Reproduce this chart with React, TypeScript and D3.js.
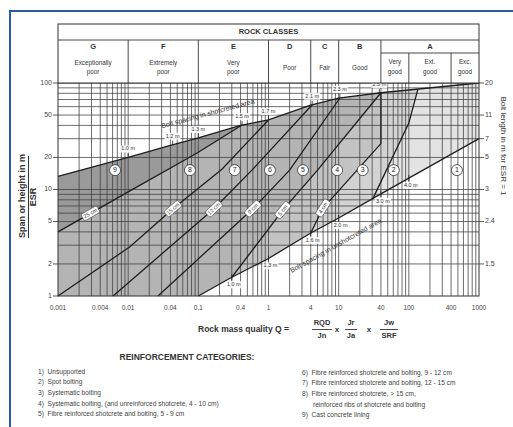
import React from "react";
import * as d3 from "d3";

const W = 513, H = 427;
const FONT = "Liberation Sans, Arial, Helvetica, sans-serif";

// Axes
const qTicks = [0.001, 0.004, 0.01, 0.04, 0.1, 0.4, 1, 4, 10, 40, 100, 400, 1000];
const qTickLabels = ["0.001", "0.004", "0.01", "0.04", "0.1", "0.4", "1", "4", "10", "40", "100", "400", "1000"];
const spanTicks = [1, 2, 5, 10, 20, 50, 100];
const boltSpans = [100, 50, 30, 20, 10, 5, 2];
const boltLabels = ["20", "11", "7", "5", "3", "2.4", "1.5"];

// Rock class header
const classNames = ["G", "F", "E", "D", "C", "B", "A"];
const classEdges = [0.001, 0.01, 0.1, 1, 4, 10, 40, 1000];
const classDesc = [["Exceptionally", "poor"], ["Extremely", "poor"], ["Very", "poor"], ["Poor"], ["Fair"], ["Good"], []];
const aSubEdges = [40, 100, 400, 1000];
const aSubDesc = [["Very", "good"], ["Ext.", "good"], ["Exc.", "good"]];

// Upper boundary: bolt spacing in shotcreted area
const upperQ = [0.001, 0.01, 0.04, 0.1, 0.4, 1, 4, 10, 40, 1000];
const upperS = [13.3, 20, 26, 30.5, 40, 45, 62, 72, 81, 100];
const upperLabelQ = [0.01, 0.043, 0.1, 0.42, 1, 4.2, 10.4, 38];
const upperLabels = ["1.0 m", "1.2 m", "1.3 m", "1.5 m", "1.7 m", "2.1 m", "2.3 m", "2.5 m"];

// Lower boundary: bolt spacing in unshotcreted area
const lowerQ = [0.1, 0.3, 1, 4, 10, 40, 100, 1000];
const lowerS = [1, 1.5, 2.25, 3.9, 5.4, 9.1, 12.8, 30];
const lowerLabelQ = [0.3, 1, 4, 10, 40, 100];
const lowerLabels = ["1.0 m", "1.3 m", "1.6 m", "2.0 m", "3.0 m", "4.0 m"];

// Category boundaries (shotcrete thickness lines)
const line98Q = [0.001, 0.01, 0.096, 0.42];
const line98S = [4, 9.5, 22, 40.3];
const line87Q = [0.001, 0.0106, 0.0435, 0.217, 1];
const line87S = [1, 2.9, 6.6, 15.5, 45];
const line76Q = [0.0061, 0.167, 0.58, 4.2];
const line76S = [1, 6.6, 15.2, 62.5];
const line65Q = [0.0266, 0.6, 2, 10.4];
const line65S = [1, 6.6, 15.2, 72.3];
const line54Q = [0.3, 1.6, 5, 40];
const line54S = [1.5, 6.4, 15.2, 81];
const line43Q = [4, 6, 40, 40];
const line43S = [3.9, 6.7, 27, 81];
const line32Q = [31, 100, 135];
const line32S = [8.3, 42, 88];

const thickLabels = ["25 cm", "15 cm", "12 cm", "9 cm", "5 cm", "4 cm"];
const thickLabelQ = [0.0029, 0.0435, 0.167, 0.6, 1.6, 6];

const catLabels = ["9", "8", "7", "6", "5", "4", "3", "2", "1"];
const catQ = [0.0065, 0.076, 0.33, 1.05, 3.1, 9.5, 22, 61, 485];
const catS = [15.2, 15.2, 15.2, 15.2, 15.2, 15.2, 15.2, 15.2, 15.2];

const legendLeft = [
  "1)  Unsupported",
  "2)  Spot bolting",
  "3)  Systematic bolting",
  "4)  Systematic bolting, (and unreinforced shotcrete, 4 - 10 cm)",
  "5)  Fibre reinforced shotcrete and bolting, 5 - 9 cm",
];
const legendRight = [
  "6)  Fibre reinforced shotcrete and bolting, 9 - 12 cm",
  "7)  Fibre reinforced shotcrete and bolting, 12 - 15 cm",
  "8)  Fibre reinforced shotcrete, > 15 cm,",
  "      reinforced ribs of shotcrete and bolting",
  "9)  Cast concrete lining",
];

type P = [number, number];
const zip = (qs: number[], ss: number[]): P[] => qs.map((q, i) => [q, ss[i]] as P);

function interp(poly: P[], q: number): number {
  for (let i = 0; i < poly.length - 1; i++) {
    const [q0, s0] = poly[i], [q1, s1] = poly[i + 1];
    if (q >= q0 && q <= q1) {
      if (q1 === q0) return s0;
      const t = (Math.log(q) - Math.log(q0)) / (Math.log(q1) - Math.log(q0));
      return Math.exp(Math.log(s0) + t * (Math.log(s1) - Math.log(s0)));
    }
  }
  return poly[poly.length - 1][1];
}
function sub(poly: P[], a: number, b: number): P[] {
  const out: P[] = [[a, interp(poly, a)]];
  poly.forEach((p) => { if (p[0] > a && p[0] < b) out.push(p); });
  out.push([b, interp(poly, b)]);
  return out;
}
const rev = (p: P[]) => p.slice().reverse();

export default function App() {
  const X0 = 58, X1 = 479, Y0 = 83, Y1 = 296;
  const x = d3.scaleLog().domain([0.001, 1000]).range([X0, X1]);
  const y = d3.scaleLog().domain([1, 100]).range([Y1, Y0]);
  const line = d3.line<P>().x((d) => x(d[0])).y((d) => y(d[1]));
  const poly = (p: P[]) => (line(p) || "") + "Z";

  const U = zip(upperQ, upperS);
  const L = zip(lowerQ, lowerS);
  const L98 = zip(line98Q, line98S);
  const L87 = zip(line87Q, line87S);
  const L76 = zip(line76Q, line76S);
  const L65 = zip(line65Q, line65S);
  const L54 = zip(line54Q, line54S);
  const L43 = zip(line43Q, line43S);
  const L32 = zip(line32Q, line32S);
  const catLines = [L98, L87, L76, L65, L54, L43, L32];
  const q32a = line32Q[0], q32b = line32Q[line32Q.length - 1];

  const r9 = [...sub(U, 0.001, 0.42), ...rev(L98)];
  const rMid: P[] = [[0.001, 1], ...L98, ...sub(U, 0.42, 40), ...rev(L54), ...rev(sub(L, 0.1, 0.3))];
  const r4: P[] = [...L54, ...rev(L43), ...rev(sub(L, 0.3, 4))];
  const r3: P[] = [...L43, ...sub(U, 40, q32b), ...rev(L32), ...rev(sub(L, 4, q32a))];
  const r2: P[] = [...L32, ...sub(U, q32b, 1000), ...rev(sub(L, q32a, 1000))];

  const gridQ: number[] = [];
  for (let d = -3; d <= 2; d++) for (let k = 1; k <= 9; k++) gridQ.push(k * Math.pow(10, d));
  const gridS: number[] = [];
  for (let d = 0; d <= 1; d++) for (let k = 1; k <= 9; k++) gridS.push(k * Math.pow(10, d));

  const thickLines = [L98, L87, L76, L65, L54, L43];

  const Hy0 = 24, Hy1 = 40, Hy2 = 53;

  return (
    <svg width={W} height={H} style={{ position: "absolute", left: 0, top: 0, background: "#fff" }} fontFamily={FONT}>
      <rect x={10} y={11} width={530} height={440} fill="none" stroke="#2a5d9f" strokeWidth={2} />

      {/* shaded regions */}
      <path d={poly(r2)} fill="#e3e3e3" />
      <path d={poly(r3)} fill="#d2d2d2" />
      <path d={poly(r4)} fill="#c3c3c3" />
      <path d={poly(rMid)} fill="#b4b4b4" />
      <path d={poly(r9)} fill="#9a9a9a" />

      {/* grid */}
      {gridQ.filter((q) => q > 0.0011 && q < 999).map((q, i) => (
        <line key={"gq" + i} x1={x(q)} x2={x(q)} y1={Y0} y2={Y1} stroke="#3c3c3c" strokeWidth={0.75} />
      ))}
      {gridS.filter((s) => s > 1.01 && s < 99).map((s, i) => (
        <line key={"gs" + i} x1={X0} x2={X1} y1={y(s)} y2={y(s)} stroke="#3c3c3c" strokeWidth={0.75} />
      ))}

      {/* boundaries */}
      <path d={line(U) || ""} fill="none" stroke="#1e1e1e" strokeWidth={1.3} />
      <path d={line(L) || ""} fill="none" stroke="#1e1e1e" strokeWidth={1.3} />
      {catLines.map((l, i) => (
        <path key={"cl" + i} d={line(l) || ""} fill="none" stroke="#1e1e1e" strokeWidth={1.3} />
      ))}

      {/* plot frame */}
      <rect x={X0} y={Y0} width={X1 - X0} height={Y1 - Y0} fill="none" stroke="#333" strokeWidth={1} />

      {/* upper labels */}
      {upperLabelQ.map((q, i) => {
        const px = x(q), py = y(interp(U, q));
        return (
          <g key={"ul" + i}>
            <line x1={px} x2={px} y1={py} y2={py - 4} stroke="#222" strokeWidth={0.8} />
            <rect x={px - 8} y={py - 12} width={16} height={7} fill="#fff" opacity={0.85} />
            <text x={px} y={py - 8.5} fontSize={5.5} textAnchor="middle" dominantBaseline="middle" fill="#333">{upperLabels[i]}</text>
          </g>
        );
      })}
      {lowerLabelQ.map((q, i) => {
        const px = x(q), py = y(interp(L, q));
        return (
          <g key={"ll" + i}>
            <line x1={px} x2={px} y1={py - 3} y2={py + 3} stroke="#222" strokeWidth={0.8} />
            <rect x={px - 6} y={py + 4} width={16} height={7} fill="#fff" opacity={0.85} />
            <text x={px + 2} y={py + 7.5} fontSize={5.5} textAnchor="middle" dominantBaseline="middle" fill="#333">{lowerLabels[i]}</text>
          </g>
        );
      })}

      <text transform={`translate(208,114) rotate(-15)`} fontSize={7} textAnchor="middle" dominantBaseline="middle" fill="#333">Bolt spacing in shotcreted area</text>
      <text transform={`translate(336,246) rotate(-29.4)`} fontSize={7} textAnchor="middle" dominantBaseline="middle" fill="#333">Bolt spacing in unshotcreted area</text>

      {/* thickness labels */}
      {thickLabelQ.map((q, i) => {
        const l = thickLines[i];
        const s = interp(l, q);
        const px = x(q), py = y(s);
        const ax = x(q * 1.15) - x(q / 1.15), ay = y(interp(l, q * 1.15)) - y(interp(l, q / 1.15));
        const ang = (Math.atan2(ay, ax) * 180) / Math.PI;
        return (
          <g key={"tl" + i} transform={`translate(${px},${py}) rotate(${ang})`}>
            <rect x={-9} y={-3.8} width={18} height={7.6} rx={2} fill="#fff" stroke="#444" strokeWidth={0.6} />
            <text x={0} y={0.3} fontSize={5.5} textAnchor="middle" dominantBaseline="middle" fill="#333">{thickLabels[i]}</text>
          </g>
        );
      })}

      {/* category circles */}
      {catLabels.map((c, i) => (
        <g key={"cc" + i}>
          <circle cx={x(catQ[i])} cy={y(catS[i])} r={5.5} fill="#fff" stroke="#333" strokeWidth={0.8} />
          <text x={x(catQ[i])} y={y(catS[i]) + 0.3} fontSize={7} textAnchor="middle" dominantBaseline="middle" fill="#222">{c}</text>
        </g>
      ))}

      {/* left axis */}
      {spanTicks.map((s, i) => (
        <g key={"ly" + i}>
          <line x1={X0 - 5} x2={X0} y1={y(s)} y2={y(s)} stroke="#333" strokeWidth={0.8} />
          <text x={X0 - 6} y={y(s)} fontSize={7} textAnchor="end" dominantBaseline="middle" fill="#444">{s}</text>
        </g>
      ))}
      {/* right axis */}
      {boltSpans.map((s, i) => (
        <g key={"ry" + i}>
          <line x1={X1} x2={X1 + 5} y1={y(s)} y2={y(s)} stroke="#333" strokeWidth={0.8} />
          <text x={X1 + 6} y={y(s)} fontSize={7} textAnchor="start" dominantBaseline="middle" fill="#444">{boltLabels[i]}</text>
        </g>
      ))}
      {/* bottom axis labels */}
      {qTicks.map((q, i) => (
        <text key={"bx" + i} x={x(q)} y={308} fontSize={6.5} textAnchor="middle" dominantBaseline="middle" fill="#444">{qTickLabels[i]}</text>
      ))}

      {/* header */}
      <rect x={X0} y={Hy0} width={X1 - X0} height={Y0 - Hy0} fill="#fff" stroke="#333" strokeWidth={1} />
      <line x1={X0} x2={X1} y1={Hy1} y2={Hy1} stroke="#333" strokeWidth={0.9} />
      <line x1={x(40)} x2={X1} y1={Hy2} y2={Hy2} stroke="#333" strokeWidth={0.9} />
      <text x={(X0 + X1) / 2} y={32.5} fontSize={7.5} fontWeight="bold" textAnchor="middle" dominantBaseline="middle" fill="#333">ROCK CLASSES</text>
      {classNames.map((c, i) => {
        const a = x(classEdges[i]), b = x(classEdges[i + 1]);
        const cx = (a + b) / 2;
        const desc = classDesc[i];
        return (
          <g key={"hc" + i}>
            {i > 0 && <line x1={a} x2={a} y1={Hy1} y2={Y0} stroke="#333" strokeWidth={0.9} />}
            <text x={cx} y={47.5} fontSize={7.5} fontWeight="bold" textAnchor="middle" dominantBaseline="middle" fill="#333">{c}</text>
            {desc.length === 2 && (
              <>
                <text x={cx} y={63} fontSize={6.3} textAnchor="middle" dominantBaseline="middle" fill="#333">{desc[0]}</text>
                <text x={cx} y={72} fontSize={6.3} textAnchor="middle" dominantBaseline="middle" fill="#333">{desc[1]}</text>
              </>
            )}
            {desc.length === 1 && (
              <text x={cx} y={68} fontSize={6.3} textAnchor="middle" dominantBaseline="middle" fill="#333">{desc[0]}</text>
            )}
          </g>
        );
      })}
      {aSubDesc.map((d, i) => {
        const a = x(aSubEdges[i]), b = x(aSubEdges[i + 1]);
        const cx = (a + b) / 2;
        return (
          <g key={"as" + i}>
            {i > 0 && <line x1={a} x2={a} y1={Hy2} y2={Y0} stroke="#333" strokeWidth={0.9} />}
            <text x={cx} y={62.5} fontSize={6.3} textAnchor="middle" dominantBaseline="middle" fill="#333">{d[0]}</text>
            <text x={cx} y={72} fontSize={6.3} textAnchor="middle" dominantBaseline="middle" fill="#333">{d[1]}</text>
          </g>
        );
      })}

      {/* y titles */}
      <text transform="translate(23,196) rotate(-90)" fontSize={9} fontWeight="bold" textAnchor="middle" dominantBaseline="middle" fill="#333">Span or height in m</text>
      <line x1={28.5} x2={28.5} y1={156} y2={238} stroke="#333" strokeWidth={1} />
      <text transform="translate(34,197) rotate(-90)" fontSize={9} fontWeight="bold" textAnchor="middle" dominantBaseline="middle" fill="#333">ESR</text>
      <text transform="translate(503,146) rotate(90)" fontSize={8} textAnchor="middle" dominantBaseline="middle" fill="#333">Bolt length in m for ESR = 1</text>

      {/* x title */}
      <text x={198} y={330} fontSize={8.5} fontWeight="bold" dominantBaseline="middle" fill="#333">Rock mass quality  Q =</text>
      {[
        { cx: 322, n: "RQD", d: "Jn", w: 20 },
        { cx: 351, n: "Jr", d: "Ja", w: 12 },
        { cx: 389, n: "Jw", d: "SRF", w: 18 },
      ].map((f, i) => (
        <g key={"fr" + i}>
          <text x={f.cx} y={323.5} fontSize={7.5} fontWeight="bold" textAnchor="middle" dominantBaseline="middle" fill="#333">{f.n}</text>
          <line x1={f.cx - f.w / 2} x2={f.cx + f.w / 2} y1={329.5} y2={329.5} stroke="#333" strokeWidth={0.9} />
          <text x={f.cx} y={336} fontSize={7.5} fontWeight="bold" textAnchor="middle" dominantBaseline="middle" fill="#333">{f.d}</text>
        </g>
      ))}
      <text x={337} y={330} fontSize={8} fontWeight="bold" textAnchor="middle" dominantBaseline="middle" fill="#333">x</text>
      <text x={369} y={330} fontSize={8} fontWeight="bold" textAnchor="middle" dominantBaseline="middle" fill="#333">x</text>

      {/* legend */}
      <text x={187} y={358} fontSize={8.5} fontWeight="bold" textAnchor="middle" dominantBaseline="middle" fill="#333">REINFORCEMENT CATEGORIES:</text>
      {legendLeft.map((t, i) => (
        <text key={"lg" + i} x={38} y={372 + i * 10.6} fontSize={6.6} dominantBaseline="middle" fill="#444" style={{ whiteSpace: "pre" }}>{t}</text>
      ))}
      {legendRight.map((t, i) => (
        <text key={"lr" + i} x={302} y={373 + i * 10.6} fontSize={6.6} dominantBaseline="middle" fill="#444" style={{ whiteSpace: "pre" }}>{t}</text>
      ))}
    </svg>
  );
}
